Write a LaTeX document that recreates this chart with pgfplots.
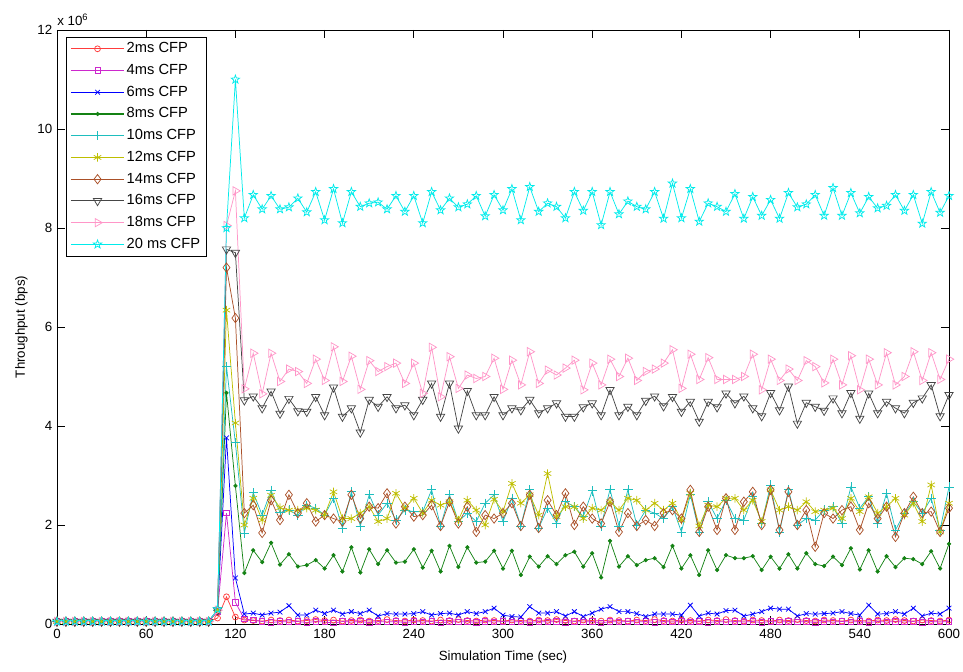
\documentclass[border=0pt]{standalone}
\usepackage{fontspec}
\setmainfont{Liberation Sans}
\usepackage{pgfplots}
\usepackage{pgfplotstable}
\pgfplotsset{compat=1.18}
\usetikzlibrary{plotmarks}

\definecolor{cfpA}{RGB}{255,60,60}
\definecolor{cfpB}{RGB}{205,40,205}
\definecolor{cfpC}{RGB}{0,0,255}
\definecolor{cfpD}{RGB}{20,130,20}
\definecolor{cfpE}{RGB}{30,190,190}
\definecolor{cfpF}{RGB}{190,190,0}
\definecolor{cfpG}{RGB}{170,80,40}
\definecolor{cfpH}{RGB}{70,70,70}
\definecolor{cfpI}{RGB}{255,150,200}
\definecolor{cfpJ}{RGB}{0,235,235}

% MATLAB-like pentagram marker
\pgfdeclareplotmark{pentagram}{%
  \pgfpathmoveto{\pgfpointpolar{90}{\pgfplotmarksize}}%
  \pgfpathlineto{\pgfpointpolar{126}{0.4\pgfplotmarksize}}%
  \pgfpathlineto{\pgfpointpolar{162}{\pgfplotmarksize}}%
  \pgfpathlineto{\pgfpointpolar{198}{0.4\pgfplotmarksize}}%
  \pgfpathlineto{\pgfpointpolar{234}{\pgfplotmarksize}}%
  \pgfpathlineto{\pgfpointpolar{270}{0.4\pgfplotmarksize}}%
  \pgfpathlineto{\pgfpointpolar{306}{\pgfplotmarksize}}%
  \pgfpathlineto{\pgfpointpolar{342}{0.4\pgfplotmarksize}}%
  \pgfpathlineto{\pgfpointpolar{18}{\pgfplotmarksize}}%
  \pgfpathlineto{\pgfpointpolar{54}{0.4\pgfplotmarksize}}%
  \pgfpathclose
  \pgfusepathqstroke
}

% throughput in units of 1e6 bps
\pgfplotstableread{
t   r    m    b    g    tl   ol   br   gy   pk   cy
0   0.05 0.05 0.05 0.05 0.05 0.05 0.05 0.05 0.05 0.05
6   0.05 0.05 0.05 0.05 0.05 0.05 0.05 0.05 0.05 0.05
12  0.05 0.05 0.05 0.05 0.05 0.05 0.05 0.05 0.05 0.05
18  0.05 0.05 0.05 0.05 0.05 0.05 0.05 0.05 0.05 0.05
24  0.05 0.05 0.05 0.05 0.05 0.05 0.05 0.05 0.05 0.05
30  0.05 0.05 0.05 0.05 0.05 0.05 0.05 0.05 0.05 0.05
36  0.05 0.05 0.05 0.05 0.05 0.05 0.05 0.05 0.05 0.05
42  0.05 0.05 0.05 0.05 0.05 0.05 0.05 0.05 0.05 0.05
48  0.05 0.05 0.05 0.05 0.05 0.05 0.05 0.05 0.05 0.05
54  0.05 0.05 0.05 0.05 0.05 0.05 0.05 0.05 0.05 0.05
60  0.05 0.05 0.05 0.05 0.05 0.05 0.05 0.05 0.05 0.05
66  0.05 0.05 0.05 0.05 0.05 0.05 0.05 0.05 0.05 0.05
72  0.05 0.05 0.05 0.05 0.05 0.05 0.05 0.05 0.05 0.05
78  0.05 0.05 0.05 0.05 0.05 0.05 0.05 0.05 0.05 0.05
84  0.05 0.05 0.05 0.05 0.05 0.05 0.05 0.05 0.05 0.05
90  0.05 0.05 0.05 0.05 0.05 0.05 0.05 0.05 0.05 0.05
96  0.05 0.05 0.05 0.05 0.05 0.05 0.05 0.05 0.05 0.05
102 0.05 0.05 0.05 0.05 0.05 0.05 0.05 0.05 0.05 0.05
108 0.12 0.25 0.28 0.28 0.28 0.28 0.28 0.28 0.28 0.30
114 0.55 2.24 3.76 4.67 5.20 6.34 7.20 7.57 8.05 8.00
120 0.14 0.44 0.93 2.79 3.66 4.06 6.18 7.50 8.75 11.00
126 0.08 0.10 0.20 1.03 1.84 2.00 2.24 4.52 4.75 8.20
132 0.07 0.08 0.22 1.49 2.65 2.54 2.40 4.60 5.47 8.67
138 0.06 0.05 0.18 1.25 2.20 2.10 1.84 4.36 4.65 8.38
144 0.08 0.03 0.22 1.64 2.70 2.60 2.50 4.70 5.47 8.65
150 0.07 0.05 0.24 1.20 2.25 2.35 2.10 4.25 4.90 8.38
156 0.08 0.04 0.37 1.41 2.30 2.30 2.61 4.55 5.15 8.42
162 0.06 0.05 0.18 1.16 2.20 2.30 2.24 4.30 5.10 8.60
168 0.07 0.03 0.18 1.19 2.40 2.34 2.44 4.29 4.86 8.32
174 0.09 0.05 0.28 1.29 2.34 2.30 2.07 4.59 5.35 8.73
180 0.07 0.04 0.21 1.12 2.20 2.20 2.20 4.22 4.92 8.16
186 0.08 0.02 0.28 1.39 2.54 2.67 2.13 4.78 5.60 8.79
192 0.06 0.05 0.20 1.06 1.94 2.13 2.07 4.19 4.90 8.10
198 0.07 0.04 0.25 1.55 2.67 2.13 2.61 4.36 5.41 8.73
204 0.08 0.05 0.21 1.04 1.98 2.24 2.13 3.87 4.74 8.43
210 0.06 0.03 0.28 1.51 2.61 2.37 2.37 4.53 5.32 8.50
216 0.07 0.05 0.16 1.21 2.20 2.07 2.34 4.39 5.10 8.52
222 0.09 0.04 0.21 1.49 2.44 2.13 2.64 4.59 5.20 8.38
228 0.07 0.05 0.20 1.24 2.10 2.64 2.03 4.36 5.27 8.65
234 0.06 0.03 0.20 1.26 2.30 2.34 2.37 4.42 4.86 8.33
240 0.08 0.05 0.21 1.51 2.27 2.54 2.17 4.22 5.27 8.65
246 0.07 0.04 0.25 1.14 2.27 2.24 2.20 4.53 4.66 8.10
252 0.06 0.05 0.18 1.48 2.71 2.50 2.40 4.86 5.59 8.73
258 0.08 0.02 0.21 1.06 1.98 2.40 1.98 4.19 4.59 8.36
264 0.07 0.05 0.22 1.58 2.61 2.47 2.47 4.86 5.40 8.60
270 0.09 0.04 0.18 1.15 2.07 2.10 2.03 3.95 4.76 8.42
276 0.07 0.05 0.25 1.55 2.24 2.50 2.37 4.71 5.03 8.48
282 0.06 0.03 0.21 1.24 2.07 2.30 1.86 4.22 4.96 8.65
288 0.08 0.05 0.25 1.26 2.44 2.00 2.20 4.22 5.00 8.24
294 0.07 0.04 0.32 1.48 2.61 2.52 2.13 4.59 5.37 8.67
300 0.06 0.05 0.18 1.12 2.07 2.27 2.24 4.22 4.74 8.36
306 0.08 0.04 0.15 1.48 2.54 2.84 2.44 4.36 5.33 8.79
312 0.07 0.05 0.14 0.99 1.98 2.44 1.98 4.32 4.83 8.16
318 0.06 0.03 0.35 1.36 2.71 2.61 2.61 4.53 5.50 8.83
324 0.08 0.05 0.22 1.16 1.94 2.20 1.94 4.26 4.86 8.33
330 0.07 0.04 0.22 1.37 2.34 3.04 2.50 4.36 5.13 8.50
336 0.09 0.05 0.25 1.21 2.04 2.17 2.20 4.46 5.03 8.43
342 0.07 0.03 0.16 1.39 2.47 2.37 2.64 4.19 5.17 8.20
348 0.06 0.05 0.25 1.46 2.37 2.37 2.00 4.19 5.33 8.73
354 0.08 0.04 0.15 1.16 2.17 2.13 2.37 4.38 4.73 8.35
360 0.07 0.05 0.22 1.43 2.69 2.34 2.13 4.46 5.27 8.73
366 0.06 0.02 0.30 0.94 1.98 2.30 2.03 4.22 4.83 8.06
372 0.08 0.05 0.35 1.68 2.72 2.47 2.47 4.73 5.35 8.73
378 0.07 0.04 0.25 1.16 1.98 2.30 1.86 4.22 5.00 8.28
384 0.06 0.05 0.25 1.37 2.71 2.54 2.24 4.39 5.37 8.54
390 0.08 0.04 0.21 1.19 2.00 2.50 1.98 4.22 4.92 8.43
396 0.07 0.05 0.15 1.29 2.30 2.30 2.10 4.51 5.10 8.38
402 0.09 0.03 0.20 1.33 2.24 2.44 1.98 4.60 5.15 8.73
408 0.07 0.05 0.20 1.15 2.13 2.30 2.24 4.40 5.27 8.19
414 0.06 0.04 0.20 1.58 2.37 2.44 2.30 4.59 5.54 8.90
420 0.08 0.05 0.18 1.12 1.86 2.10 2.13 4.29 4.76 8.20
426 0.07 0.04 0.38 1.39 2.61 2.64 2.71 4.49 5.45 8.79
432 0.06 0.05 0.16 0.99 1.86 1.98 1.86 4.09 4.94 8.13
438 0.08 0.03 0.22 1.49 2.47 2.40 2.37 4.49 5.38 8.50
444 0.07 0.05 0.20 1.09 2.13 2.37 1.90 4.38 4.94 8.43
450 0.09 0.04 0.27 1.39 2.50 2.54 2.54 4.66 4.94 8.33
456 0.07 0.05 0.28 1.33 2.13 2.54 1.90 4.46 4.94 8.69
462 0.06 0.04 0.16 1.33 2.10 2.30 2.47 4.60 5.00 8.19
468 0.08 0.05 0.20 1.37 2.57 2.50 2.67 4.36 5.45 8.63
474 0.07 0.03 0.25 1.09 2.03 2.07 2.00 4.20 4.73 8.25
480 0.06 0.05 0.32 1.36 2.81 2.71 2.71 4.67 5.35 8.57
486 0.08 0.04 0.30 1.12 1.86 2.30 1.90 4.32 4.92 8.19
492 0.07 0.05 0.30 1.41 2.71 2.37 2.67 4.80 5.15 8.71
498 0.09 0.04 0.16 1.12 2.00 2.30 2.00 4.05 4.92 8.42
504 0.07 0.05 0.21 1.43 2.13 2.47 2.30 4.47 5.32 8.48
510 0.06 0.03 0.20 1.21 2.10 2.27 1.56 4.39 5.20 8.67
516 0.08 0.05 0.21 1.17 2.30 2.30 2.24 4.31 4.87 8.25
522 0.07 0.04 0.22 1.36 2.37 2.34 2.13 4.56 5.35 8.81
528 0.06 0.05 0.25 1.19 2.03 2.13 2.30 4.26 4.83 8.25
534 0.08 0.04 0.21 1.53 2.77 2.54 2.37 4.67 5.42 8.71
540 0.07 0.05 0.18 1.10 2.34 2.27 1.90 4.15 4.73 8.30
546 0.06 0.03 0.38 1.49 2.57 2.57 2.44 4.66 5.35 8.63
552 0.08 0.05 0.20 1.06 2.03 2.24 2.13 4.26 4.83 8.40
558 0.07 0.04 0.21 1.37 2.64 2.37 2.37 4.49 5.48 8.45
564 0.09 0.05 0.25 1.15 1.90 2.54 1.76 4.36 4.83 8.67
570 0.07 0.04 0.20 1.33 2.24 2.20 2.24 4.26 5.00 8.35
576 0.06 0.05 0.32 1.31 2.47 2.44 2.57 4.47 5.50 8.67
582 0.08 0.03 0.16 1.21 2.24 2.07 2.24 4.56 4.92 8.09
588 0.07 0.05 0.22 1.47 2.54 2.81 2.27 4.83 5.48 8.73
594 0.06 0.04 0.20 1.12 1.90 1.86 1.86 4.20 4.94 8.31
600 0.08 0.05 0.32 1.62 2.77 2.44 2.34 4.63 5.35 8.65
}\tput

% legend sample: a coloured line with one mark in its middle
\newcommand{\legline}[1]{%
  \draw[#1, line width=0.8pt] (0pt,0pt) -- (40pt,0pt);
  \draw[#1, only marks] plot coordinates {(20pt,0pt)};}

\begin{document}
\begin{tikzpicture}
\begin{axis}[
  scale only axis,
  width=669pt, height=445.5pt,
  xmin=0, xmax=600, ymin=0, ymax=12,
  xtick={0,60,...,600}, ytick={0,2,...,12},
  tick align=inside, major tick length=6pt,
  tick style={black, line width=0.5pt},
  axis line style={black, line width=0.6pt},
  /pgf/number format/assume math mode=true,
  ticklabel style={font=\fontsize{10}{12}\selectfont},
  xlabel={Simulation Time (sec)},
  ylabel={Throughput (bps)},
  label style={font=\fontsize{10}{12}\selectfont},
  xlabel style={at={(axis description cs:0.5,-0.055)}, anchor=center},
  ylabel style={at={(axis description cs:-0.04,0.5)}, anchor=center},
  clip=false,
  every axis plot/.append style={line width=0.55pt},
  legend cell align=left,
  legend style={
    at={(rel axis cs:0,1)}, anchor=north west, xshift=6.75pt, yshift=-5.25pt,
    draw=black, line width=0.5pt, inner xsep=3pt, inner ysep=2pt,
    font=\fontsize{11}{13}\selectfont,
    nodes={inner sep=1.5pt, text height=8pt, text depth=2.2pt},
    row sep=3.1pt,
  },
]
\addplot[color=cfpA, mark=o, mark size=2.2pt,
  legend image code/.code={\legline{cfpA}}] table[x=t, y=r] {\tput};
\addlegendentry{2ms CFP}
\addplot[color=cfpB, mark=square, mark size=2pt,
  legend image code/.code={\legline{cfpB}}] table[x=t, y=m] {\tput};
\addlegendentry{4ms CFP}
\addplot[color=cfpC, mark=x, mark size=2.5pt,
  legend image code/.code={\legline{cfpC}}] table[x=t, y=b] {\tput};
\addlegendentry{6ms CFP}
\addplot[color=cfpD, mark=*, mark size=1.3pt,
  legend image code/.code={\legline{cfpD}}] table[x=t, y=g] {\tput};
\addlegendentry{8ms CFP}
\addplot[color=cfpE, mark=+, mark size=3.5pt,
  legend image code/.code={\legline{cfpE}}] table[x=t, y=tl] {\tput};
\addlegendentry{10ms CFP}
\addplot[color=cfpF, mark=asterisk, mark size=3.2pt,
  legend image code/.code={\legline{cfpF}}] table[x=t, y=ol] {\tput};
\addlegendentry{12ms CFP}
\addplot[color=cfpG, mark=diamond, mark size=3.5pt,
  legend image code/.code={\legline{cfpG}}] table[x=t, y=br] {\tput};
\addlegendentry{14ms CFP}
\addplot[color=cfpH, mark=triangle, mark size=3.6pt, mark options={rotate=180},
  legend image code/.code={\legline{cfpH}}] table[x=t, y=gy] {\tput};
\addlegendentry{16ms CFP}
\addplot[color=cfpI, mark=triangle, mark size=3.6pt, mark options={rotate=-90},
  legend image code/.code={\legline{cfpI}}] table[x=t, y=pk] {\tput};
\addlegendentry{18ms CFP}
\addplot[color=cfpJ, mark=pentagram, mark size=3.3pt,
  legend image code/.code={\legline{cfpJ}}] table[x=t, y=cy] {\tput};
\addlegendentry{20 ms CFP}
\node[anchor=south west, inner sep=0pt, font=\fontsize{10}{12}\selectfont]
  at (rel axis cs:0,1) [yshift=3pt] {x 10\textsuperscript{6}};
\end{axis}
\pgfresetboundingbox
\useasboundingbox ([xshift=-42.75pt, yshift=-35.25pt]current axis.south west)
  rectangle ([xshift=10.5pt, yshift=22.5pt]current axis.north east);
\end{tikzpicture}
\end{document}
